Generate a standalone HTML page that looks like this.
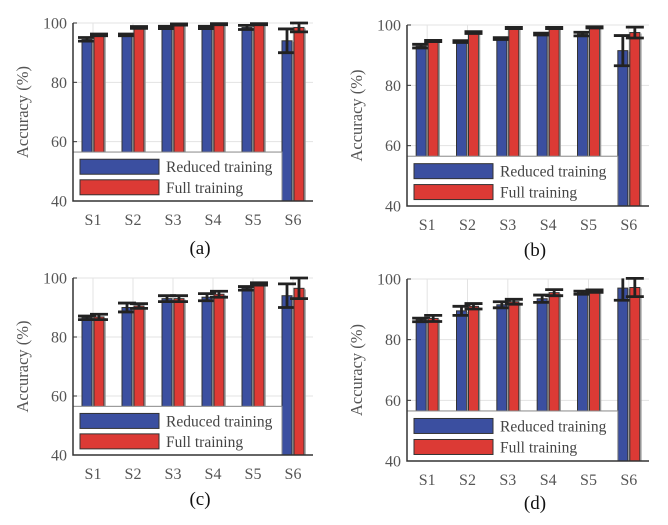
<!DOCTYPE html>
<html><head><meta charset="utf-8"><style>
body{margin:0;background:#fff;width:668px;height:520px;overflow:hidden}
svg, svg text{font-family:"Liberation Serif","Times New Roman",serif}
</style></head><body>
<svg id="fig" width="668" height="520" font-family="Liberation Serif, serif"></svg>
<script>
const categories=["S1","S2","S3","S4","S5","S6"];
const yTicks=[40,60,80,100];
const reducedA=[94.5,96,98.5,98.5,98.5,94];
const reducedErrA=[0.6,0.3,0.4,0.4,0.7,4];
const fullA=[96,98.5,99.5,99.6,99.6,98.5];
const fullErrA=[0.3,0.3,0.2,0.2,0.2,1.5];
const reducedB=[93,94.5,95.5,97,97,91.5];
const reducedErrB=[0.6,0.3,0.3,0.3,0.6,5];
const fullB=[94.7,97.5,99,99,99.2,97.5];
const fullErrB=[0.2,0.3,0.2,0.2,0.2,1.8];
const reducedC=[86.5,90,93,93.5,96.5,94];
const reducedErrC=[0.6,1.5,1,1.2,0.6,4];
const fullC=[86.8,90.5,93,94.5,98,96.5];
const fullErrC=[0.9,0.8,1,1,0.4,3.5];
const reducedD=[86.5,89.5,91.5,93.5,95.5,97];
const reducedErrD=[0.6,1.5,1,1.2,0.5,4];
const fullD=[87,91,92.5,95.5,96,97.2];
const fullErrD=[1,0.9,0.8,1,0.4,3];
const legendTop=56.5;
const panels=[
 {id:"a",l:73,r:313,t:23,b:201,red:reducedA,rerr:reducedErrA,full:fullA,ferr:fullErrA,cap:248},
 {id:"b",l:407,r:649,t:25,b:206,red:reducedB,rerr:reducedErrB,full:fullB,ferr:fullErrB,cap:250},
 {id:"c",l:73,r:313,t:278,b:455,red:reducedC,rerr:reducedErrC,full:fullC,ferr:fullErrC,cap:499},
 {id:"d",l:407,r:649,t:279,b:461,red:reducedD,rerr:reducedErrD,full:fullD,ferr:fullErrD,cap:503}
];
const svg=document.getElementById('fig');
const NS="http://www.w3.org/2000/svg";
const FF="Liberation Serif, Times New Roman, serif";
function mk(tag,attrs,parent){const e=document.createElementNS(NS,tag);for(const k in attrs)e.setAttribute(k,attrs[k]);if(tag==='text')e.setAttribute('font-family',FF);parent.appendChild(e);return e;}
panels.forEach(p=>{
 const g=mk('g',{},svg);
 
 
 const y=v=>p.b-(v-40)/60*(p.b-p.t);
 const gw=(p.r-p.l)/categories.length;
 const x=i=>p.l+gw*(i+0.5);
 yTicks.forEach(v=>{const l=mk('line',{x1:p.l,x2:p.r,y1:y(v),y2:y(v),stroke:'#e3e3e3','stroke-width':1},g);
  });
 categories.forEach((c,i)=>{const l=mk('line',{x1:x(i),x2:x(i),y1:p.t,y2:p.b,stroke:'#e3e3e3','stroke-width':1},g);
  });
 categories.forEach((c,i)=>{
  const bw=10;
  [[p.red[i],p.rerr[i],x(i)-bw-1,'#3b4fa0','reduced'],[p.full[i],p.ferr[i],x(i)+1,'#dc3a35','full']].forEach(([v,e,bx,col,nm])=>{
   const r=mk('rect',{x:bx,y:y(v),width:bw,height:p.b-y(v),fill:col,stroke:'#333','stroke-width':1},g);
   
   
   mk('line',{x1:bx+bw+1,x2:bx+bw+1,y1:y(v)+1,y2:p.b,stroke:'#999','stroke-width':1.5},g);
   const cx=bx+bw/2;
   const top=v+e;
   let d=`M${cx} ${y(Math.min(top,100.2))}V${y(v-e)}M${cx-9} ${y(v-e)}H${cx+9}`;
   if(top<=100.3) d+=`M${cx-9} ${y(top)}H${cx+9}`;
   const eb=mk('path',{d:d,stroke:'#222','stroke-width':2.8,fill:'none'},g);
   
   
  });
  const t=mk('text',{x:x(i),y:p.b+24,'text-anchor':'middle','font-size':16,fill:'#555'},g);
  t.textContent=c;
  
 });
 const lx2=x(5)-11;
 const lt=y(legendTop);
 const lg=mk('g',{},g);
 
 mk('rect',{x:p.l,y:lt,width:lx2-p.l,height:p.b-lt,fill:'#fff',stroke:'#888','stroke-width':1},lg);
 const lh=p.b-lt;
 [['Reduced training','#3b4fa0',0.3],['Full training','#dc3a35',0.72]].forEach(([txt,col,f])=>{
  const cy=lt+lh*f;
  const sw=mk('rect',{x:p.l+7,y:cy-7.5,width:79,height:15,fill:col,stroke:'#333','stroke-width':1},lg);
  
  const t=mk('text',{x:p.l+93,y:cy+5.5,'font-size':15.5,fill:'#444'},lg);
  t.textContent=txt;
  
 });
 const ax=mk('path',{d:`M${p.l} ${p.t}V${p.b}H${p.r}`,stroke:'#333','stroke-width':1.5,fill:'none'},g);
 
 yTicks.forEach(v=>{
  mk('line',{x1:p.l,x2:p.l+4,y1:y(v),y2:y(v),stroke:'#333','stroke-width':1},g);
  const t=mk('text',{x:p.l-6,y:y(v)+5.5,'text-anchor':'end','font-size':16,fill:'#555'},g);
  t.textContent=v;
  
 });
 const yl=mk('text',{x:0,y:0,transform:`translate(${p.l-45},${(p.t+p.b)/2}) rotate(-90)`,'text-anchor':'middle','font-size':16.5,fill:'#555'},g);
 yl.textContent='Accuracy (%)';
 
 const cap=mk('text',{x:(p.l+p.r)/2+7,y:p.cap+6,'text-anchor':'middle','font-size':19,fill:'#111'},g);
 cap.textContent='('+p.id+')';
 
});
</script>
</body></html>
